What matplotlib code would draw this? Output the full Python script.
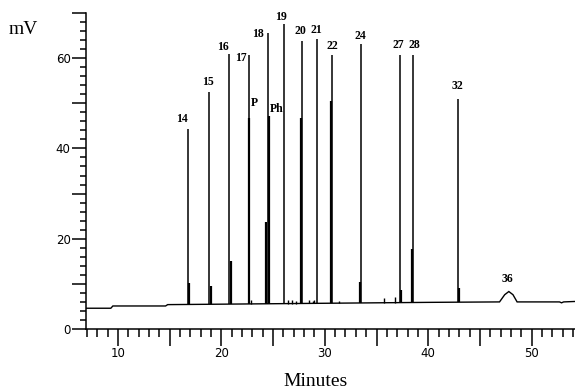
import matplotlib
matplotlib.use('Agg')
import matplotlib.pyplot as plt
import numpy as np
from matplotlib.ticker import FixedLocator, FixedFormatter, MultipleLocator

# baseline of the trace (minutes, mV)
base_t = [6.9, 9.3, 9.5, 14.6, 14.8, 20.0, 25.0, 30.0, 35.0, 40.0, 46.9, 47.4, 47.8, 48.2, 48.6, 52.7, 52.9, 53.1, 54.2]
base_v = [4.6, 4.6, 5.1, 5.1, 5.4, 5.5, 5.6, 5.7, 5.8, 5.9, 6.0, 7.6, 8.3, 7.6, 6.0, 6.0, 5.8, 6.0, 6.1]

# main peaks
peak_t = [16.74, 18.80, 20.73, 22.67, 24.51, 26.06, 27.79, 29.22, 30.70, 33.47, 37.27, 38.50, 42.85, 47.81]
peak_h = [44.3, 52.5, 61.0, 60.8, 65.6, 67.5, 63.9, 64.2, 60.6, 63.1, 60.6, 60.6, 51.0, 8.3]
peak_lab = ['14', '15', '16', '17', '18', '19', '20', '21', '22', '24', '27', '28', '32', '36']

# co-eluting shoulders next to the main peaks
sh_t = [16.88, 19.0, 20.9, 22.62, 24.35, 24.58, 27.72, 30.64, 33.4, 37.4, 38.42, 43.0]
sh_h = [10.3, 9.6, 15.1, 46.7, 23.7, 47.1, 46.7, 50.6, 10.4, 8.7, 17.8, 9.1]

# small bumps on the baseline
bump_t = [22.9, 26.4, 26.8, 27.2, 28.5, 28.9, 29.0, 31.4, 35.75, 36.8]
bump_h = [6.5, 6.4, 6.4, 6.3, 6.4, 6.3, 6.5, 6.1, 6.8, 7.1]

# named shoulders
named_t = [22.62, 24.58]
named_h = [46.7, 47.1]
named_lab = ['P', 'Ph']

# label offsets in points (layout only)
lab_dx = [-4, -1, -4, -6, -7.5, -2, -1, 0, 0, 0, -1.5, 1, 0, -1]
lab_dy = [7, 7, 5, -2.5, -1, 5, 7, 6.5, 7, 6, 7.5, 7.5, 9, 9]
named_dx = [4.5, 6]
named_dy = [11, 5.5]

fig = plt.figure(figsize=(5.75, 3.92), dpi=100)
ax = fig.add_axes([86/575, 1-329/392, 489/575, 316/392])

ax.plot(base_t, base_v, color='black', lw=1.0, solid_joinstyle='miter')
pb = np.interp(peak_t, base_t, base_v)
pb[-1] = np.nan  # broad peak is already part of the trace
ax.vlines(peak_t, pb, peak_h, color='black', lw=1.1)
ax.vlines(sh_t, np.interp(sh_t, base_t, base_v), sh_h, color='black', lw=1.6)
ax.vlines(bump_t, np.interp(bump_t, base_t, base_v), bump_h, color='black', lw=1.0)

for i, lab in enumerate(peak_lab):
    ax.annotate(lab, (peak_t[i], peak_h[i]), xytext=(lab_dx[i], lab_dy[i]),
                textcoords='offset points', ha='center', va='center',
                fontsize=8.5, fontweight='bold', family='Liberation Serif')
for i, lab in enumerate(named_lab):
    ax.annotate(lab, (named_t[i], named_h[i]), xytext=(named_dx[i], named_dy[i]),
                textcoords='offset points', ha='center', va='center',
                fontsize=8.5, fontweight='bold', family='Liberation Serif')

ax.set_xlim(6.9, 54.2)
ax.set_ylim(0, 70)
for s in ['top', 'right']:
    ax.spines[s].set_visible(False)
for s in ['left', 'bottom']:
    ax.spines[s].set_linewidth(1.1)

ax.yaxis.set_major_locator(FixedLocator([0, 10, 20, 30, 40, 50, 60, 70]))
ax.yaxis.set_major_formatter(FixedFormatter(['0', '', '20', '', '40', '', '60', '']))
ax.yaxis.set_minor_locator(MultipleLocator(2))
ax.xaxis.set_major_locator(FixedLocator([10, 15, 20, 25, 30, 35, 40, 45, 50]))
ax.xaxis.set_major_formatter(FixedFormatter(['10', '', '20', '', '30', '', '40', '', '50']))
ax.xaxis.set_minor_locator(MultipleLocator(1))
ax.tick_params(axis='y', which='major', length=10, width=1.1, pad=1, labelsize=8.5)
ax.tick_params(axis='y', which='minor', length=4.5, width=1.1)
ax.tick_params(axis='x', which='major', length=12, width=1.1, pad=1, labelsize=8.5)
ax.tick_params(axis='x', which='minor', length=6, width=1.1)

fig.text(23/575, 1-30/392, 'mV', ha='center', va='center', fontsize=14, family='Liberation Serif')
fig.text(316/575, 1-381/392, 'Minutes', ha='center', va='center', fontsize=14, family='Liberation Serif')

fig.savefig('out.png', dpi=100)
